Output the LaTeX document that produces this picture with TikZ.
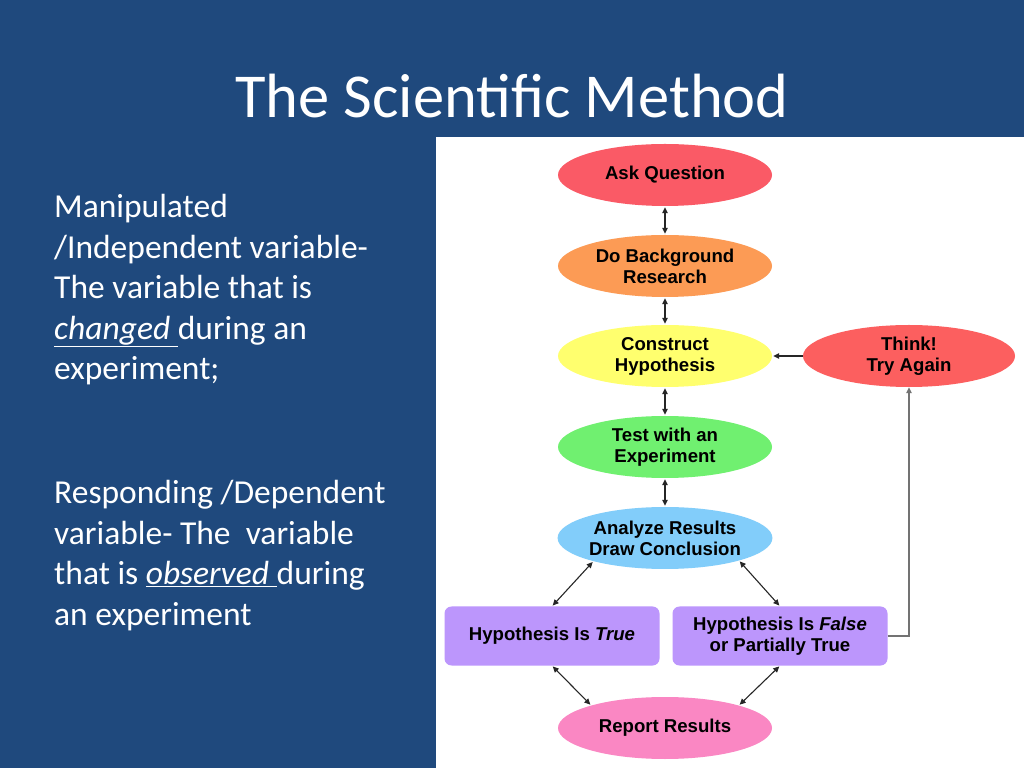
\documentclass[tikz,border=0pt]{standalone}
\usepackage{fontspec}
\setmainfont{Carlito}
\newfontfamily\chartfont{Liberation Sans}
\usetikzlibrary{arrows.meta,positioning,shapes.geometric}
\definecolor{slideblue}{RGB}{31,73,125}
\definecolor{askred}{RGB}{250,90,102}
\definecolor{bgorange}{RGB}{252,155,85}
\definecolor{hypyellow}{RGB}{255,255,110}
\definecolor{thinkred}{RGB}{252,95,95}
\definecolor{testgreen}{RGB}{112,240,112}
\definecolor{analblue}{RGB}{130,205,250}
\definecolor{hpurple}{RGB}{188,150,252}
\definecolor{reportpink}{RGB}{250,135,195}

\begin{document}
\begin{tikzpicture}[x=1pt, y=1pt, >={Triangle[length=6pt,width=5.5pt]},
    oval/.style={ellipse, minimum width=214pt, minimum height=62pt, inner sep=0pt,
                 align=center, font=\chartfont\fontsize{18.6}{21}\selectfont\bfseries},
    hbox/.style={rounded corners=7pt, fill=hpurple, minimum width=215pt, minimum height=59pt,
                 inner sep=0pt, align=center, font=\chartfont\fontsize{18.6}{21}\selectfont\bfseries},
    link/.style={<->, line width=1.1pt, black!85, shorten <=1pt, shorten >=1pt},
    back/.style={line width=1.3pt, black!55}]
  % slide and white panel
  \fill[slideblue] (0,0) rectangle (1024,768);
  \fill[white] (436,0) rectangle (1024,631);
  \node[anchor=base, text=white, font=\fontsize{62.5}{70}\selectfont, inner sep=0pt]
        (title) at (512,650) {The Scientific Method};
  \node[anchor=north west, align=left, text=white, inner sep=0pt,
        font=\fontsize{33.5}{40.6}\selectfont]
        (indep) at (54,574) {Manipulated\\/Independent variable-\\The variable that is\\
        \underline{\textit{changed\ }}during an\\experiment;};
  \node[anchor=north west, align=left, text=white, inner sep=0pt,
        font=\fontsize{33.5}{40.6}\selectfont]
        (dep) at (54,288) {Responding /Dependent\\variable- The\ \ variable\\
        that is \underline{\textit{observed\ }}during\\an experiment};
  % flow chart
  \node[oval, fill=askred] (ask) at (665,593) {Ask Question};
  \node[oval, fill=bgorange] (bg) at (665,502) {Do Background\\Research};
  \node[oval, fill=hypyellow] (hyp) at (665,412) {Construct\\Hypothesis};
  \node[oval, fill=thinkred, minimum width=212pt] (think) at (909,412) {Think!\\Try Again};
  \node[oval, fill=testgreen] (test) at (665,321) {Test with an\\Experiment};
  \node[oval, fill=analblue] (anal) at (665,230) {Analyze Results\\Draw Conclusion};
  \node[hbox] (htrue) at (552,132) {Hypothesis Is \textit{True}};
  \node[hbox] (hfalse) at (780,132) {Hypothesis Is \textit{False}\\or Partially True};
  \node[oval, fill=reportpink] (report) at (665,40) {Report Results};
  \draw[link] (ask) -- (bg);
  \draw[link] (bg) -- (hyp);
  \draw[link] (hyp) -- (test);
  \draw[link] (test) -- (anal);
  \draw[link] (anal.198) -- (htrue.north);
  \draw[link] (anal.-17) -- (hfalse.north);
  \draw[link] (htrue.south) -- (report.163);
  \draw[link] (hfalse.south) -- (report.17);
  \draw[->, line width=1.1pt, black!85, shorten >=1pt] (think.west) -- (hyp.east);
  \draw[back, ->] (hfalse.east) -| (think.south);
\end{tikzpicture}
\end{document}
